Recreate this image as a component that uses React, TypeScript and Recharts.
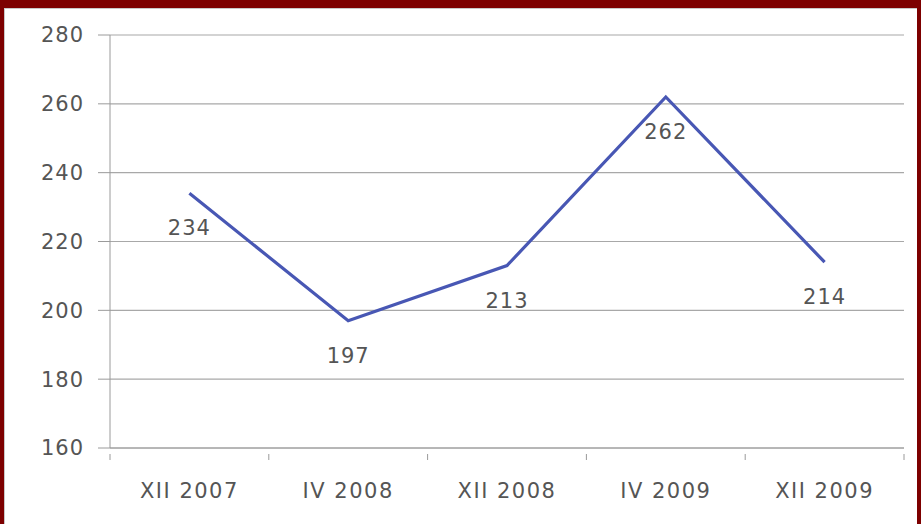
import React from 'react';
import { LineChart, Line, XAxis, YAxis, CartesianGrid, LabelList } from 'recharts';

const periods = ['XII 2007', 'IV 2008', 'XII 2008', 'IV 2009', 'XII 2009'];
const values = [234, 197, 213, 262, 214];
const yTicks = [160, 180, 200, 220, 240, 260, 280];

const data = periods.map((name, i) => ({ name, value: values[i] }));

const CHART_W = 911;
const CHART_H = 515;
const MARGIN = { top: 26, right: 12, left: 0, bottom: 0 };
const Y_WIDTH = 105;
const X_HEIGHT = 76;
const BAND = (CHART_W - MARGIN.left - MARGIN.right - Y_WIDTH) / periods.length;

const font = '"DejaVu Sans", sans-serif';

function XTick(props: any) {
  const { x, y, payload, index } = props;
  const axisY = y - 12;
  return (
    <g>
      <line x1={x - BAND / 2} x2={x - BAND / 2} y1={axisY} y2={axisY + 6} stroke="#9a9a9a" />
      {index === periods.length - 1 && (
        <line x1={x + BAND / 2} x2={x + BAND / 2} y1={axisY} y2={axisY + 6} stroke="#9a9a9a" />
      )}
      <text
        x={x}
        y={axisY + 44}
        textAnchor="middle"
        fill="#555"
        fontSize={21}
        letterSpacing={1.5}
        fontFamily={font}
      >
        {payload.value}
      </text>
    </g>
  );
}

export default function App() {
  return (
    <div
      style={{
        position: 'absolute',
        left: 0,
        top: 0,
        width: 921,
        height: 524,
        boxSizing: 'border-box',
        background: '#7d0000',
        paddingTop: 8,
        paddingLeft: 4,
        paddingRight: 4,
      }}
    >
      <div
        style={{
          width: 913,
          height: 516,
          background: '#fff',
          boxSizing: 'border-box',
          borderTop: '1px solid #c8c8c8',
          borderLeft: '1px solid #c8c8c8',
        }}
      >
        <LineChart width={CHART_W} height={CHART_H} data={data} margin={MARGIN}>
          <CartesianGrid vertical={false} stroke="#a8a8a8" strokeWidth={1.2} />
          <XAxis
            dataKey="name"
            scale="band"
            height={X_HEIGHT}
            stroke="#9a9a9a"
            tickLine={false}
            tick={<XTick />}
            tickMargin={12}
            interval={0}
          />
          <YAxis
            domain={[160, 280]}
            ticks={yTicks}
            width={Y_WIDTH}
            stroke="#9a9a9a"
            tickSize={12}
            tickMargin={14}
            tick={{ fill: '#555', fontSize: 21, fontFamily: font, letterSpacing: 1 }}
            interval={0}
          />
          <Line
            dataKey="value"
            stroke="#4857b4"
            strokeWidth={3.2}
            dot={false}
            isAnimationActive={false}
          >
            <LabelList
              dataKey="value"
              position="bottom"
              offset={27}
              fill="#555"
              fontSize={21}
              fontFamily={font}
              letterSpacing={1}
            />
          </Line>
        </LineChart>
      </div>
    </div>
  );
}
